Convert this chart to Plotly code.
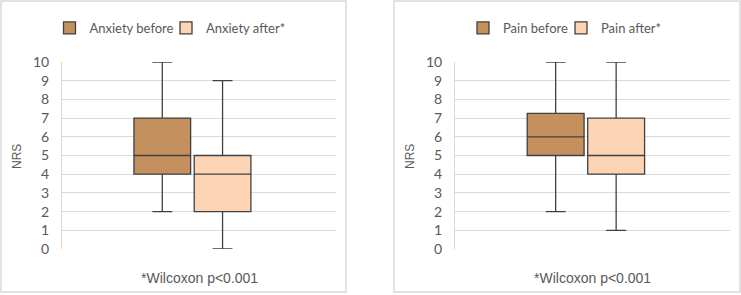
import plotly.graph_objects as go

# ---- data ----
anx_names = ["Anxiety before", "Anxiety after*"]
anx_min = [2, 0]
anx_q1 = [4, 2]
anx_med = [5, 4]
anx_q3 = [7, 5]
anx_max = [10, 9]

pain_names = ["Pain before", "Pain after*"]
pain_min = [2, 1]
pain_q1 = [5, 4]
pain_med = [6, 5]
pain_q3 = [7.25, 7]
pain_max = [10, 10]

y_ticks = list(range(0, 11))
note_text = "*Wilcoxon p<0.001"
y_title = "NRS"

fills = ["#C3905E", "#FDD5B4"]
edge = "#404040"
grid = "#D9D9D9"
txt = "#595959"

W, H = 741, 295

fig = go.Figure()

legend_ids = ["legend", "legend2", "legend3", "legend4"]

def add_panel(names, mn, q1, med, q3, mx, xa, ya, legs):
    for i, nm in enumerate(names):
        fig.add_trace(go.Box(
            name=nm, x=[""], q1=[q1[i]], median=[med[i]], q3=[q3[i]],
            lowerfence=[mn[i]], upperfence=[mx[i]],
            fillcolor=fills[i], line=dict(color=edge, width=1.3),
            whiskerwidth=0.35, boxpoints=False, offsetgroup=str(i),
            xaxis=xa, yaxis=ya, legend=legs[i], hoverinfo="skip",
        ))

add_panel(anx_names, anx_min, anx_q1, anx_med, anx_q3, anx_max, "x", "y", legend_ids[:2])
add_panel(pain_names, pain_min, pain_q1, pain_med, pain_q3, pain_max, "x2", "y2", legend_ids[2:])

ydom = [46 / H, 233 / H]
xr = [-0.476, 0.524]
yaxis_common = dict(range=[0, 10], tickvals=y_ticks, showgrid=True, gridcolor=grid,
                    gridwidth=1, zeroline=False, showline=True, linecolor=grid,
                    linewidth=1, ticks="", ticklabelstandoff=9, automargin=False,
                    tickfont=dict(family="Lato", size=14, color=txt), fixedrange=True)
xaxis_common = dict(range=xr, showticklabels=False, showgrid=False, zeroline=False,
                    showline=False, ticks="", fixedrange=True, automargin=False)

legend_common = dict(orientation="h", xanchor="left", yanchor="middle",
                     font=dict(family="Lato", size=13, color=txt),
                     bgcolor="rgba(0,0,0,0)", itemclick=False, itemdoubleclick=False,
                     borderwidth=0)

# target legend icon centres (px)
icon_centres = [69.5, 186, 483, 581]
legends = {}
for lid, cx in zip(legend_ids, icon_centres):
    legends[lid] = dict(x=(cx - 20) / W, y=(H - 28) / H, **legend_common)

fig.update_layout(
    width=W, height=H, margin=dict(l=0, r=0, t=0, b=0, autoexpand=False),
    paper_bgcolor="white", plot_bgcolor="white",
    boxmode="group", boxgap=0.56, boxgroupgap=0.06,
    xaxis=dict(domain=[62 / W, 336 / W], anchor="y", **xaxis_common),
    yaxis=dict(domain=ydom, anchor="x", **yaxis_common),
    xaxis2=dict(domain=[455 / W, 730 / W], anchor="y2", **xaxis_common),
    yaxis2=dict(domain=ydom, anchor="x2", **yaxis_common),
    showlegend=True,
    **legends,
)

# panel frames
for x0, x1 in [(1, 346), (394, 740)]:
    fig.add_shape(type="rect", xref="paper", yref="paper",
                  x0=x0 / W, x1=x1 / W, y0=(H - 292) / H, y1=(H - 1) / H,
                  line=dict(color=grid, width=1.5), fillcolor="rgba(0,0,0,0)", layer="below")

# axis titles / notes
for xc, yx in [(199, 17), (592.5, 410)]:
    fig.add_annotation(text=note_text, xref="paper", yref="paper", x=xc / W, y=(H - 278) / H,
                       showarrow=False, xanchor="center", yanchor="middle",
                       font=dict(family="Liberation Sans", size=14, color=txt))
    fig.add_annotation(text=y_title, xref="paper", yref="paper", x=yx / W, y=(H - 157) / H,
                       showarrow=False, xanchor="center", yanchor="middle", textangle=-90,
                       font=dict(family="Liberation Sans", size=12, color=txt))

fig.write_html("out.html", config={"displayModeBar": False})
